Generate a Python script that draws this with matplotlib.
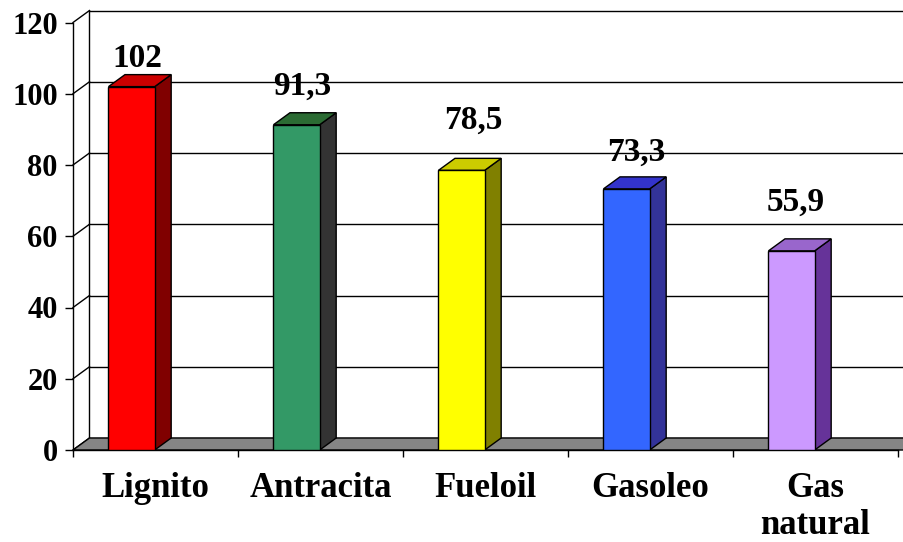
import matplotlib.pyplot as plt
from matplotlib.patches import Polygon

categories = ["Lignito", "Antracita", "Fueloil", "Gasoleo", "Gas\nnatural"]
values = [102, 91.3, 78.5, 73.3, 55.9]
value_labels = ["102", "91,3", "78,5", "73,3", "55,9"]
yticks = [0, 20, 40, 60, 80, 100, 120]

front_colors = ["#FF0000", "#339966", "#FFFF00", "#3366FF", "#CC99FF"]
top_colors = ["#CC0000", "#2B6B33", "#CCCC00", "#3333CC", "#9966CC"]
side_colors = ["#800000", "#333333", "#808000", "#333399", "#663399"]

# label nudges in pixels (dx, dy above bar front top)
label_nudge = [(6, 28), (6, 38), (12, 50), (10, 37), (4, 49)]

fig = plt.figure(figsize=(9.04, 5.42), dpi=100)
ax = fig.add_axes([73 / 904, 92 / 542, 825 / 904, 427.5 / 542])
ax.set_xlim(0, 5)
ax.set_ylim(0, 120)

# depth of the 3d box in data units
px_x = 825 / 5
px_y = 427.5 / 120
ddx = 16.5 / px_x
ddy = 12 / px_y

serif = "Liberation Serif"

# floor
floor = Polygon([(0, 0), (5 + 0.3, 0), (5 + 0.3 + ddx, ddy), (ddx, ddy)],
                closed=True, facecolor="#858585", edgecolor="black",
                lw=1, clip_on=False, zorder=1)
ax.add_patch(floor)

# back wall gridlines and side wall diagonals
for t in yticks:
    ax.plot([ddx, 5.5], [t + ddy, t + ddy], color="black", lw=1,
            clip_on=False, zorder=0.5)
    ax.plot([0, ddx], [t, t + ddy], color="black", lw=1,
            clip_on=False, zorder=0.5)
ax.plot([ddx, ddx], [ddy, 120 + ddy], color="black", lw=1,
        clip_on=False, zorder=0.5)

# 3d bars
x_off = 0.215
w = 0.28
for i, v in enumerate(values):
    x0 = i + x_off
    front = Polygon([(x0, 0), (x0 + w, 0), (x0 + w, v), (x0, v)],
                    facecolor=front_colors[i], edgecolor="black", lw=1,
                    zorder=3)
    top = Polygon([(x0, v), (x0 + w, v), (x0 + w + ddx, v + ddy),
                   (x0 + ddx, v + ddy)],
                  facecolor=top_colors[i], edgecolor="black", lw=1,
                  clip_on=False, zorder=3)
    side = Polygon([(x0 + w, 0), (x0 + w + ddx, ddy),
                    (x0 + w + ddx, v + ddy), (x0 + w, v)],
                   facecolor=side_colors[i], edgecolor="black", lw=1,
                   clip_on=False, zorder=3)
    ax.add_patch(side)
    ax.add_patch(top)
    ax.add_patch(front)

    nx, ny = label_nudge[i]
    ax.annotate(value_labels[i], xy=(x0 + w / 2, v),
                xytext=(nx * 0.72, ny * 0.72), textcoords="offset points",
                ha="center", va="center", color="black", zorder=4,
                family=serif, weight="bold", size=24)

# axes
for s in ["top", "right"]:
    ax.spines[s].set_visible(False)
ax.spines["left"].set_linewidth(1)
ax.spines["bottom"].set_linewidth(1)
ax.spines["bottom"].set_zorder(2)

ax.set_yticks(yticks)
ax.set_yticklabels([str(t) for t in yticks], family=serif,
                   weight="bold", size=22)
ax.tick_params(axis="y", length=6, width=1, pad=5, direction="out")

ax.set_xticks(range(6))
ax.set_xticklabels([])
ax.tick_params(axis="x", which="major", length=5, width=1, direction="out")
ax.set_xticks([i + 0.5 for i in range(5)], minor=True)
ax.set_xticklabels(categories, minor=True, family=serif, weight="bold",
                   size=25, linespacing=1.15)
ax.tick_params(axis="x", which="minor", length=0, pad=16)

fig.savefig("out.png", dpi=100)
